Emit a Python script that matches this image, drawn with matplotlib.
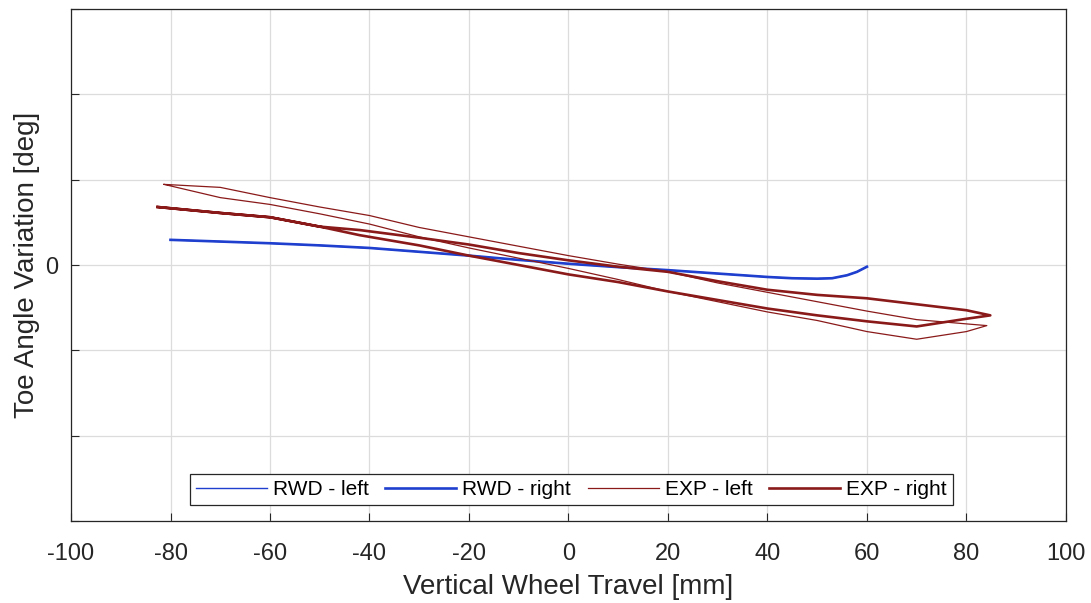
import numpy as np
import matplotlib
matplotlib.use("Agg")
import matplotlib.pyplot as plt

plt.rcParams['font.family'] = ['Liberation Sans', 'DejaVu Sans']

# RWD simulation (left and right sides coincide)
rwd_travel = [-80, -70, -60, -50, -40, -30, -20, -10, 0, 10, 20, 30, 40, 45, 50, 53, 56, 58, 60]
rwd_toe = [0.295, 0.275, 0.255, 0.23, 0.20, 0.155, 0.11, 0.06, 0.015, -0.025, -0.06,
           -0.10, -0.14, -0.155, -0.16, -0.155, -0.12, -0.08, -0.02]

# EXP measurement, left side (bump stroke then rebound stroke)
exp_left_travel = [-81.3, -70, -60, -50, -40, -30, -20, -10, 0, 10, 20, 30, 40, 50, 60, 70, 80, 84.1,
                   80, 70, 60, 50, 40, 30, 20, 10, 0, -10, -20, -30, -40, -50, -60, -70, -81.3]
exp_left_toe = [0.945, 0.91, 0.79, 0.68, 0.58, 0.44, 0.33, 0.22, 0.11, 0.01, -0.08, -0.21, -0.32,
                -0.43, -0.54, -0.64, -0.69, -0.71,
                -0.78, -0.87, -0.78, -0.65, -0.55, -0.43, -0.31, -0.17, -0.04, 0.08, 0.20, 0.33,
                0.48, 0.60, 0.71, 0.79, 0.945]

# EXP measurement, right side
exp_right_travel = [-82.6, -70, -60, -50, -42, -30, -20, -10, 0, 10, 20, 30, 40, 50, 60, 70, 80, 84.8,
                    80, 70, 60, 50, 40, 30, 20, 10, 0, -10, -20, -30, -42, -50, -60, -70, -82.6]
exp_right_toe = [0.68, 0.61, 0.56, 0.45, 0.41, 0.32, 0.24, 0.14, 0.055, -0.02, -0.08, -0.19, -0.29,
                 -0.35, -0.39, -0.46, -0.53, -0.59,
                 -0.63, -0.72, -0.66, -0.59, -0.51, -0.41, -0.31, -0.20, -0.11, 0.0, 0.11, 0.23,
                 0.35, 0.45, 0.56, 0.61, 0.68]

xticks = np.arange(-100, 101, 20)
yticks = [-3, -2, -1, 0, 1, 2, 3]
ylabels = ['', '', '', '0', '', '', '']

blue = '#1f3fcf'
red = '#8a1a1a'
ink = '#262626'

fig = plt.figure(figsize=(10.91, 6.03), dpi=100)
ax = fig.add_axes([0.0651, 0.136, 0.9119, 0.849])

ax.plot(rwd_travel, rwd_toe, color=blue, lw=1.0, label='RWD - left')
ax.plot(rwd_travel, rwd_toe, color=blue, lw=1.9, label='RWD - right')
ax.plot(exp_left_travel, exp_left_toe, color=red, lw=0.9, label='EXP - left')
ax.plot(exp_right_travel, exp_right_toe, color=red, lw=1.9, label='EXP - right')

ax.set_xlim(-100, 100)
ax.set_ylim(-2.94, 3.0)
ax.set_xticks(xticks)
ax.set_xticklabels([str(t) for t in xticks])
ax.set_yticks(yticks)
ax.set_yticklabels(ylabels)
ax.grid(True, color='#dcdcdc', lw=0.9)
ax.set_axisbelow(True)

ax.tick_params(direction='in', length=6, width=0.8, colors=ink, labelsize=17,
               top=False, right=False)
ax.tick_params(axis='x', pad=16)
ax.tick_params(axis='y', pad=9)
for s in ax.spines.values():
    s.set_color(ink)
    s.set_linewidth(0.9)

ax.set_xlabel('Vertical Wheel Travel [mm]', fontsize=20, color=ink, labelpad=6)
ax.set_ylabel('Toe Angle Variation [deg]', fontsize=20, color=ink, labelpad=4)

leg = ax.legend(loc='lower center', bbox_to_anchor=(0.503, 0.031), ncol=4, fontsize=15,
                frameon=True, fancybox=False, edgecolor=ink, framealpha=1,
                handlelength=3.4, handletextpad=0.3, columnspacing=0.8,
                borderpad=0.3, borderaxespad=0)
leg.get_frame().set_linewidth(0.9)

fig.savefig('out.png', dpi=100)
